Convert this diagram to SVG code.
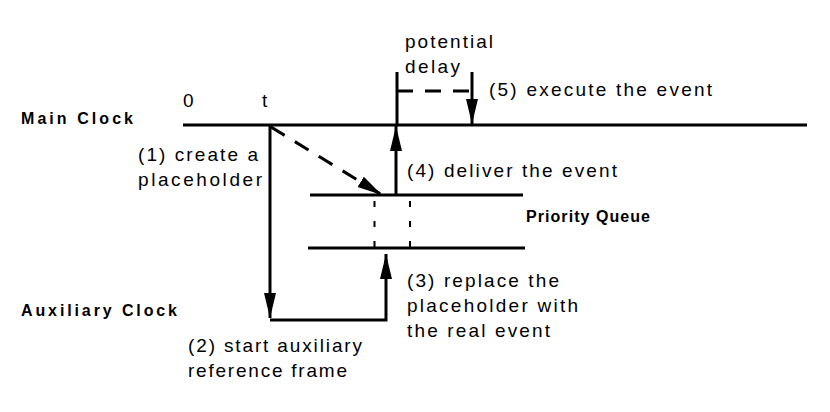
<svg xmlns="http://www.w3.org/2000/svg" width="830" height="412" viewBox="0 0 830 412">
<style>
.t{font-family:"Liberation Sans",Arial,sans-serif;font-size:19px;fill:#000}
.b{font-family:"Liberation Sans",Arial,sans-serif;font-size:16px;font-weight:bold;fill:#000}
.ln{stroke:#000;stroke-width:3;fill:none}
.dash{stroke:#000;stroke-width:3;fill:none;stroke-dasharray:16 12}
.dot{stroke:#000;stroke-width:2;fill:none;stroke-dasharray:6 14}
</style>
<defs>
<marker id="ah" markerUnits="userSpaceOnUse" markerWidth="26" markerHeight="14" refX="25" refY="6" orient="auto" viewBox="0 0 26 12">
<path d="M0,0 L25,6 L0,12 z" fill="#000"/>
</marker>
</defs>
<rect width="830" height="412" fill="#fff"/>
<g id="main-clock">
<line class="ln" x1="183" y1="125" x2="807" y2="125"/>
<text class="b" x="21" y="124" textLength="112" lengthAdjust="spacing">Main Clock</text>
<text class="t" x="183" y="107">0</text>
<text class="t" x="262" y="107">t</text>
</g>
<g id="priority-queue">
<line class="ln" x1="310" y1="195" x2="523" y2="195"/>
<line class="ln" x1="308" y1="248" x2="525" y2="248"/>
<line class="dot" x1="374.5" y1="201" x2="374.5" y2="248"/>
<line class="dot" x1="410" y1="201" x2="410" y2="248"/>
<text class="b" x="526" y="222" textLength="124" lengthAdjust="spacing">Priority Queue</text>
</g>
<g id="auxiliary-clock">
<text class="b" x="21" y="316" textLength="156" lengthAdjust="spacing">Auxiliary Clock</text>
</g>
<g id="connectors">
<line class="ln" x1="270" y1="125" x2="270" y2="318" marker-end="url(#ah)"/>
<polyline class="ln" points="270,320 386,320 386,254" marker-end="url(#ah)"/>
<line class="dash" x1="271" y1="127" x2="382" y2="195" stroke-dasharray="16 14 20 12" marker-end="url(#ah)"/>
<line class="ln" x1="396" y1="195" x2="396" y2="126" marker-end="url(#ah)"/>
<line class="ln" x1="397" y1="125" x2="397" y2="72"/>
<line class="dash" x1="397" y1="91" x2="472" y2="91" stroke-dasharray="15 13 18 14 16"/>
<line class="ln" x1="472" y1="72" x2="472" y2="124" marker-end="url(#ah)"/>
</g>
<g id="labels">
<text class="t" x="405" y="48" textLength="88" lengthAdjust="spacing">potential</text>
<text class="t" x="405" y="73" textLength="55" lengthAdjust="spacing">delay</text>
<text class="t" x="489" y="96" textLength="223" lengthAdjust="spacing">(5) execute the event</text>
<text class="t" x="138" y="161" textLength="120" lengthAdjust="spacing">(1) create a</text>
<text class="t" x="138" y="186" textLength="124" lengthAdjust="spacing">placeholder</text>
<text class="t" x="407" y="177" textLength="210" lengthAdjust="spacing">(4) deliver the event</text>
<text class="t" x="407" y="287" textLength="152" lengthAdjust="spacing">(3) replace the</text>
<text class="t" x="407" y="312" textLength="171" lengthAdjust="spacing">placeholder with</text>
<text class="t" x="407" y="337" textLength="143" lengthAdjust="spacing">the real event</text>
<text class="t" x="188" y="352" textLength="174" lengthAdjust="spacing">(2) start auxiliary</text>
<text class="t" x="188" y="377" textLength="159" lengthAdjust="spacing">reference frame</text>
</g>
</svg>
